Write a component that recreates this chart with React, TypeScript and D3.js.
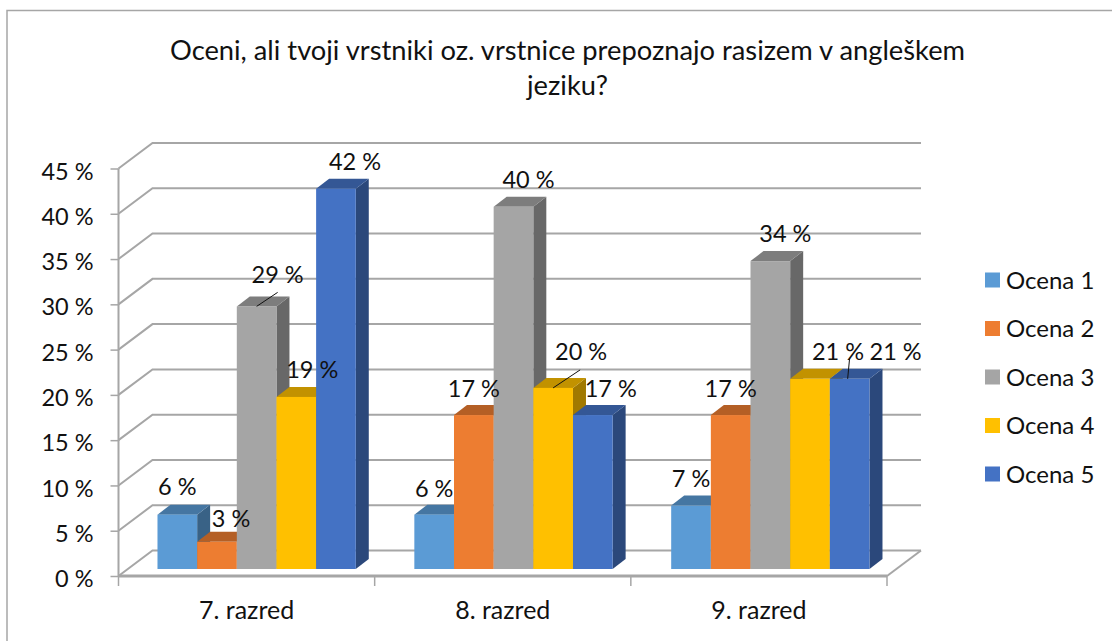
import React, { useRef, useEffect } from "react";
import * as d3 from "d3";

const width = 1112;
const height = 641;
const font = "Lato, Carlito, sans-serif";

const titleLines = [
  "Oceni, ali tvoji vrstniki oz. vrstnice prepoznajo rasizem v angleškem",
  "jeziku?",
];
const categories = ["7. razred", "8. razred", "9. razred"];
const seriesNames = ["Ocena 1", "Ocena 2", "Ocena 3", "Ocena 4", "Ocena 5"];
const seriesColors = ["#5b9bd5", "#ed7d31", "#a5a5a5", "#ffc000", "#4472c4"];
const ocena1 = [6, 6, 7];
const ocena2 = [3, 17, 17];
const ocena3 = [29, 40, 34];
const ocena4 = [19, 20, 21];
const ocena5 = [42, 17, 21];
const seriesValues = [ocena1, ocena2, ocena3, ocena4, ocena5];
const yTicks = [0, 5, 10, 15, 20, 25, 30, 35, 40, 45];

// hand placed data labels in the original: [dx, dy] from the top middle of the bar
const labelNudge = [
  [[0, -20], [14, -15], [21, -23], [16, -19], [19, -19]],
  [[0, -18], [0, -18], [15, -19], [28, -28], [18, -18]],
  [[0, -19], [0, -18], [15, -19], [28, -19], [46, -19]],
];
// leader lines: [category, series, dx start, dx end, dy end] from the top middle of the bar
const leaders = [
  [0, 2, 0, 21, -14],
  [1, 3, 0, 27, -18],
  [2, 4, -2, 0, -21],
];

const gray = "#a6a6a6";
const shade = (c: string, k: number) => {
  const r = d3.rgb(c);
  return d3.rgb(r.r * k, r.g * k, r.b * k).formatHex();
};

const Chart = () => {
  const svgRef = useRef<SVGSVGElement>(null);

  useEffect(() => {
    const svg = d3.select(svgRef.current);
    const plot = { left: 118.5, right: 887, top: 168.5, bottom: 576 };
    const wall = { dx: 34, dy: -25.5 };
    const barDepth = { dx: 13, dy: -10 };
    const barLift = 7;

    const x = d3
      .scaleBand()
      .domain(categories)
      .range([plot.left, plot.right])
      .paddingInner(0.228)
      .paddingOuter(0.11)
      .align(0.69);
    const xBar = d3
      .scaleBand()
      .domain(seriesNames)
      .range([0, x.bandwidth()]);
    const y = d3
      .scaleLinear()
      .domain([0, 45])
      .range([plot.bottom, plot.top]);

    // chart frame, right and bottom edges fall outside the picture
    svg
      .append("rect")
      .attr("x", 7)
      .attr("y", 10.5)
      .attr("width", width + 20)
      .attr("height", height + 20)
      .attr("fill", "white")
      .attr("stroke", gray)
      .attr("stroke-width", 1.5);

    svg
      .selectAll("text.title")
      .data(titleLines)
      .enter()
      .append("text")
      .attr("class", "title")
      .attr("x", 567.5)
      .attr("y", (d, i) => 60 + i * 35)
      .attr("text-anchor", "middle")
      .style("font-size", "27.3px")
      .style("fill", "#111")
      .text((d) => d);

    // walls
    const grid = svg.append("g").attr("fill", "none").attr("stroke", gray).attr("stroke-width", 2);
    yTicks.forEach((t) => {
      grid
        .append("path")
        .attr(
          "d",
          `M${plot.left},${y(t)}L${plot.left + wall.dx},${y(t) + wall.dy}H${plot.right + wall.dx}`
        );
    });
    grid
      .append("path")
      .attr("d", `M${plot.right},${plot.bottom}L${plot.right + wall.dx},${plot.bottom + wall.dy}`);

    const yAxis = svg
      .append("g")
      .attr("transform", `translate(${plot.left}, 0)`)
      .call(
        d3
          .axisLeft(y)
          .tickValues(yTicks)
          .tickSize(8)
          .tickPadding(17)
          .tickFormat((d) => `${d} %`)
      );
    const xAxis = svg
      .append("g")
      .attr("transform", `translate(0, ${plot.bottom})`)
      .call(
        d3
          .axisBottom(x)
          .tickSize(0)
          .tickPadding(25)
      );
    xAxis.selectAll(".tick line").remove();
    xAxis
      .selectAll("line.sep")
      .data(d3.range(categories.length + 1))
      .enter()
      .append("line")
      .attr("class", "sep")
      .attr("x1", (i) => plot.left + (i * (plot.right - plot.left)) / categories.length)
      .attr("x2", (i) => plot.left + (i * (plot.right - plot.left)) / categories.length)
      .attr("y1", 0)
      .attr("y2", 10)
      .attr("stroke", gray)
      .attr("stroke-width", 1.5);

    [yAxis, xAxis].forEach((a) => {
      a.selectAll(".domain").attr("stroke", gray).attr("stroke-width", 2);
      a.selectAll(".tick line").attr("stroke", gray).attr("stroke-width", 1.5);
      a.selectAll("text")
        .style("font-family", font)
        .style("font-size", "23.5px")
        .style("fill", "#111");
    });
    yAxis.selectAll("text").attr("dy", "0.45em");
    xAxis.selectAll("text").style("font-size", "25px");
    // category labels sit in the middle of the whole band, between the separators
    xAxis
      .selectAll(".tick")
      .attr("transform", (d, i) => {
        const step = (plot.right - plot.left) / categories.length;
        return `translate(${plot.left + step * (i + 0.5)},0)`;
      });
    xAxis.select(".domain").attr("d", `M${plot.left},0H${plot.right}`).attr("stroke-width", 3);
    yAxis.select(".domain").attr("d", `M0,${plot.top}V${plot.bottom}`);

    // bars, left to right so each one covers the side of the previous
    const base = y(0) - barLift;
    const barTop = (v: number) => y(v) - barLift;
    const barMid = (c: number, s: number) =>
      x(categories[c]) + xBar(seriesNames[s]) + xBar.bandwidth() / 2;

    categories.forEach((cat, c) => {
      seriesNames.forEach((name, s) => {
        const v = seriesValues[s][c];
        const x0 = x(cat) + xBar(name);
        const x1 = x0 + xBar.bandwidth();
        const t = barTop(v);
        const g = svg.append("g");
        g.append("path")
          .attr(
            "d",
            `M${x1},${base}L${x1 + barDepth.dx},${base + barDepth.dy}V${t + barDepth.dy}L${x1},${t}Z`
          )
          .attr("fill", shade(seriesColors[s], 0.63));
        g.append("path")
          .attr(
            "d",
            `M${x0},${t}L${x0 + barDepth.dx},${t + barDepth.dy}H${x1 + barDepth.dx}L${x1},${t}Z`
          )
          .attr("fill", shade(seriesColors[s], 0.76));
        g.append("rect")
          .attr("x", x0)
          .attr("y", t)
          .attr("width", x1 - x0)
          .attr("height", base - t)
          .attr("fill", seriesColors[s]);
      });
    });

    // data labels on top of all bars
    categories.forEach((cat, c) => {
      seriesNames.forEach((name, s) => {
        const v = seriesValues[s][c];
        const [dx, dy] = labelNudge[c][s];
        svg
          .append("text")
          .attr("x", barMid(c, s) + dx)
          .attr("y", barTop(v) + dy)
          .attr("text-anchor", "middle")
          .style("font-size", "23.5px")
          .style("fill", "#111")
          .text(`${v} %`);
      });
    });

    leaders.forEach(([c, s, dx0, dx1, dy1]) => {
      const mid = barMid(c, s);
      const t = barTop(seriesValues[s][c]);
      svg
        .append("line")
        .attr("x1", mid + dx0)
        .attr("y1", t)
        .attr("x2", mid + dx1)
        .attr("y2", t + dy1)
        .attr("stroke", "#111")
        .attr("stroke-width", 1);
    });

    // legend
    const legendY = d3
      .scalePoint()
      .domain(seriesNames)
      .range([280, 474]);
    seriesNames.forEach((name, s) => {
      const legend = svg
        .append("g")
        .attr("transform", `translate(985, ${legendY(name)})`);
      legend
        .append("rect")
        .attr("y", -7.5)
        .attr("width", 15)
        .attr("height", 15)
        .attr("fill", seriesColors[s]);
      legend
        .append("text")
        .attr("x", 21)
        .attr("y", 8.5)
        .style("font-size", "24px")
        .style("fill", "#111")
        .text(name);
    });

    return () => {
      svg.selectAll("*").remove();
    };
  }, []);

  return (
    <svg
      ref={svgRef}
      width={width}
      height={height}
      style={{ position: "absolute", left: 0, top: 0, fontFamily: font, background: "white" }}
    ></svg>
  );
};

export default function App() {
  return <Chart />;
}
